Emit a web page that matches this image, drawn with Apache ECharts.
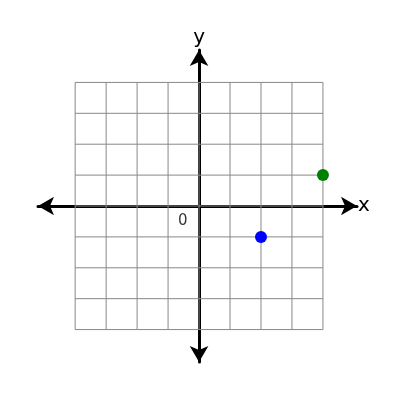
<!DOCTYPE html>
<html>
<head>
<meta charset="utf-8">
<script src="https://cdn.jsdelivr.net/npm/echarts@6/dist/echarts.min.js"></script>
<style>html,body{margin:0;padding:0;background:#fff}</style>
</head>
<body>
<div id="chart" style="width:400px;height:400px"></div>
<script>
// grid goes from -4 to 4 on both axes
var gridTicks = [-4, -3, -2, -1, 0, 1, 2, 3, 4];
var bluePoint = [[2, -1]];
var greenPoint = [[4, 1]];

var gridSeries = [];
gridTicks.forEach(function (t) {
    gridSeries.push({
        type: 'line', silent: true, symbol: 'none', z: 1,
        lineStyle: { color: '#888', width: 1 },
        data: [[t, -4], [t, 4]]
    });
    gridSeries.push({
        type: 'line', silent: true, symbol: 'none', z: 1,
        lineStyle: { color: '#888', width: 1 },
        data: [[-4, t], [4, t]]
    });
});

var axisCommon = {
    type: 'value',
    axisTick: { show: false },
    axisLabel: { show: false },
    splitLine: { show: false },
    nameTextStyle: { fontSize: 20, color: '#000', fontFamily: 'DejaVu Sans' },
    axisLine: {
        onZero: true,
        symbol: ['arrow', 'arrow'],
        symbolSize: [14, 16],
        lineStyle: { color: '#000', width: 3 }
    }
};

var myChart = echarts.init(document.getElementById('chart'));
myChart.setOption({
    animation: false,
    grid: { left: 38, right: 43, top: 50, bottom: 38 },
    xAxis: Object.assign({}, axisCommon, { min: -5.2, max: 5.1, name: 'x', nameGap: 1 }),
    yAxis: Object.assign({}, axisCommon, { min: -5.05, max: 5.05, name: 'y', nameGap: 2 }),
    series: gridSeries.concat([
        {
            type: 'scatter', symbolSize: 0, z: 3,
            data: [[0, 0]],
            label: { show: true, formatter: '0', position: [-21, 8], fontSize: 15, color: '#000', fontFamily: 'DejaVu Sans' }
        },
        { type: 'scatter', symbolSize: 12, z: 5, itemStyle: { color: '#0000ff', opacity: 1 }, data: bluePoint },
        { type: 'scatter', symbolSize: 12, z: 5, itemStyle: { color: '#008000', opacity: 1 }, data: greenPoint }
    ])
});
</script>
</body>
</html>
